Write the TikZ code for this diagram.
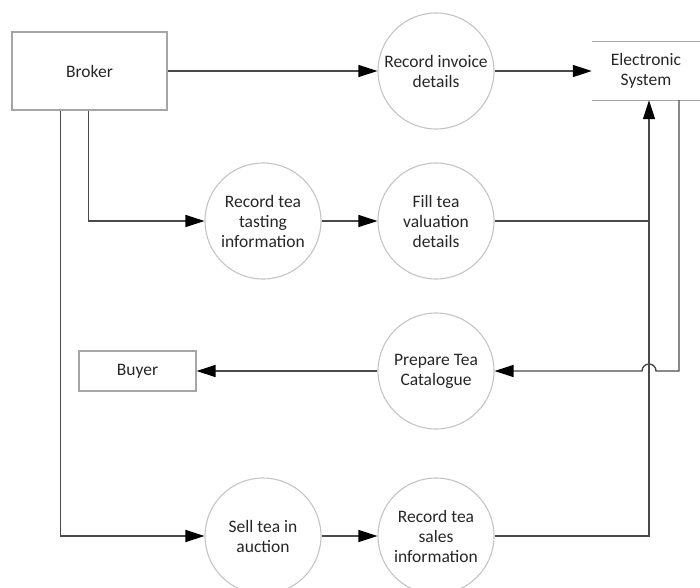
\documentclass[tikz,border=0pt]{standalone}
\usepackage{fontspec}
\setmainfont{Carlito}
\usetikzlibrary{arrows.meta}
\definecolor{linegray}{HTML}{4A4A4A}
\definecolor{boxgray}{HTML}{A6A6A6}
\definecolor{circgray}{HTML}{C4C4C4}
\definecolor{txtgray}{HTML}{262626}
\begin{document}
\begin{tikzpicture}[x=1pt,y=-1pt,
  every node/.style={font=\fontsize{17.5}{20}\selectfont, text=txtgray, align=center},
  entity/.style={draw=boxgray, line width=1.1pt, rectangle, inner sep=0pt},
  process/.style={draw=circgray, line width=1.1pt, circle, minimum size=116pt, inner sep=0pt},
  flow/.style={draw=linegray, line width=1.4pt},
  arr/.style={flow, -{Triangle[length=19pt, width=12pt, color=black, fill=black]}}
]
\useasboundingbox (0,0) rectangle (700,587);

% external entities
\node[entity, minimum width=155pt, minimum height=78pt] (broker) at (89.5,71) {Broker};
\node[entity, minimum width=117pt, minimum height=40pt] (buyer) at (137.5,371) {Buyer};

% data store, open on the right
\node[rectangle, inner sep=0pt, minimum width=108pt, minimum height=58pt] (es) at (646,71) {Electronic\\System};
\draw[boxgray, line width=1.1pt] (es.north west) -- (es.north east);
\draw[boxgray, line width=1.1pt] (es.south west) -- (es.south east);

% processes
\node[process] (invoice) at (436,71) {Record invoice\\details};
\node[process] (tasting) at (263,221) {Record tea\\tasting\\information};
\node[process] (valuation) at (436,221) {Fill tea\\valuation\\details};
\node[process] (catalogue) at (436,371) {Prepare Tea\\Catalogue};
\node[process] (auction) at (263,536) {Sell tea in\\auction};
\node[process] (sales) at (436,536) {Record tea\\sales\\information};

% connection points on the store and the broker
\coordinate (esin) at ([xshift=3pt]es.south);
\coordinate (esout) at ([xshift=33pt]es.south);
\coordinate (bk1) at ([xshift=49pt]broker.south west);
\coordinate (bk2) at ([xshift=77pt]broker.south west);

% flows
\draw[arr] (broker.east) -- (invoice.west);
\draw[arr] (invoice.east) -- (es.west);
\draw[arr] (bk2) |- (tasting.west);
\draw[arr] (tasting.east) -- (valuation.west);
\draw[flow] (valuation.east) -- (valuation.east -| esin);
\draw[arr] (sales.east) -| (esin);
\draw[arr] (bk1) |- (auction.west);
\draw[arr] (auction.east) -- (sales.west);
\coordinate (turn) at (esout |- catalogue.east);
\coordinate (hopR) at ([xshift=7pt]esin |- catalogue.east);
\draw[arr] (esout) -- (turn) -- (hopR)
  arc[start angle=0, end angle=180, radius=7pt] -- (catalogue.east);
\draw[arr] (catalogue.west) -- (buyer.east);
\end{tikzpicture}
\end{document}
